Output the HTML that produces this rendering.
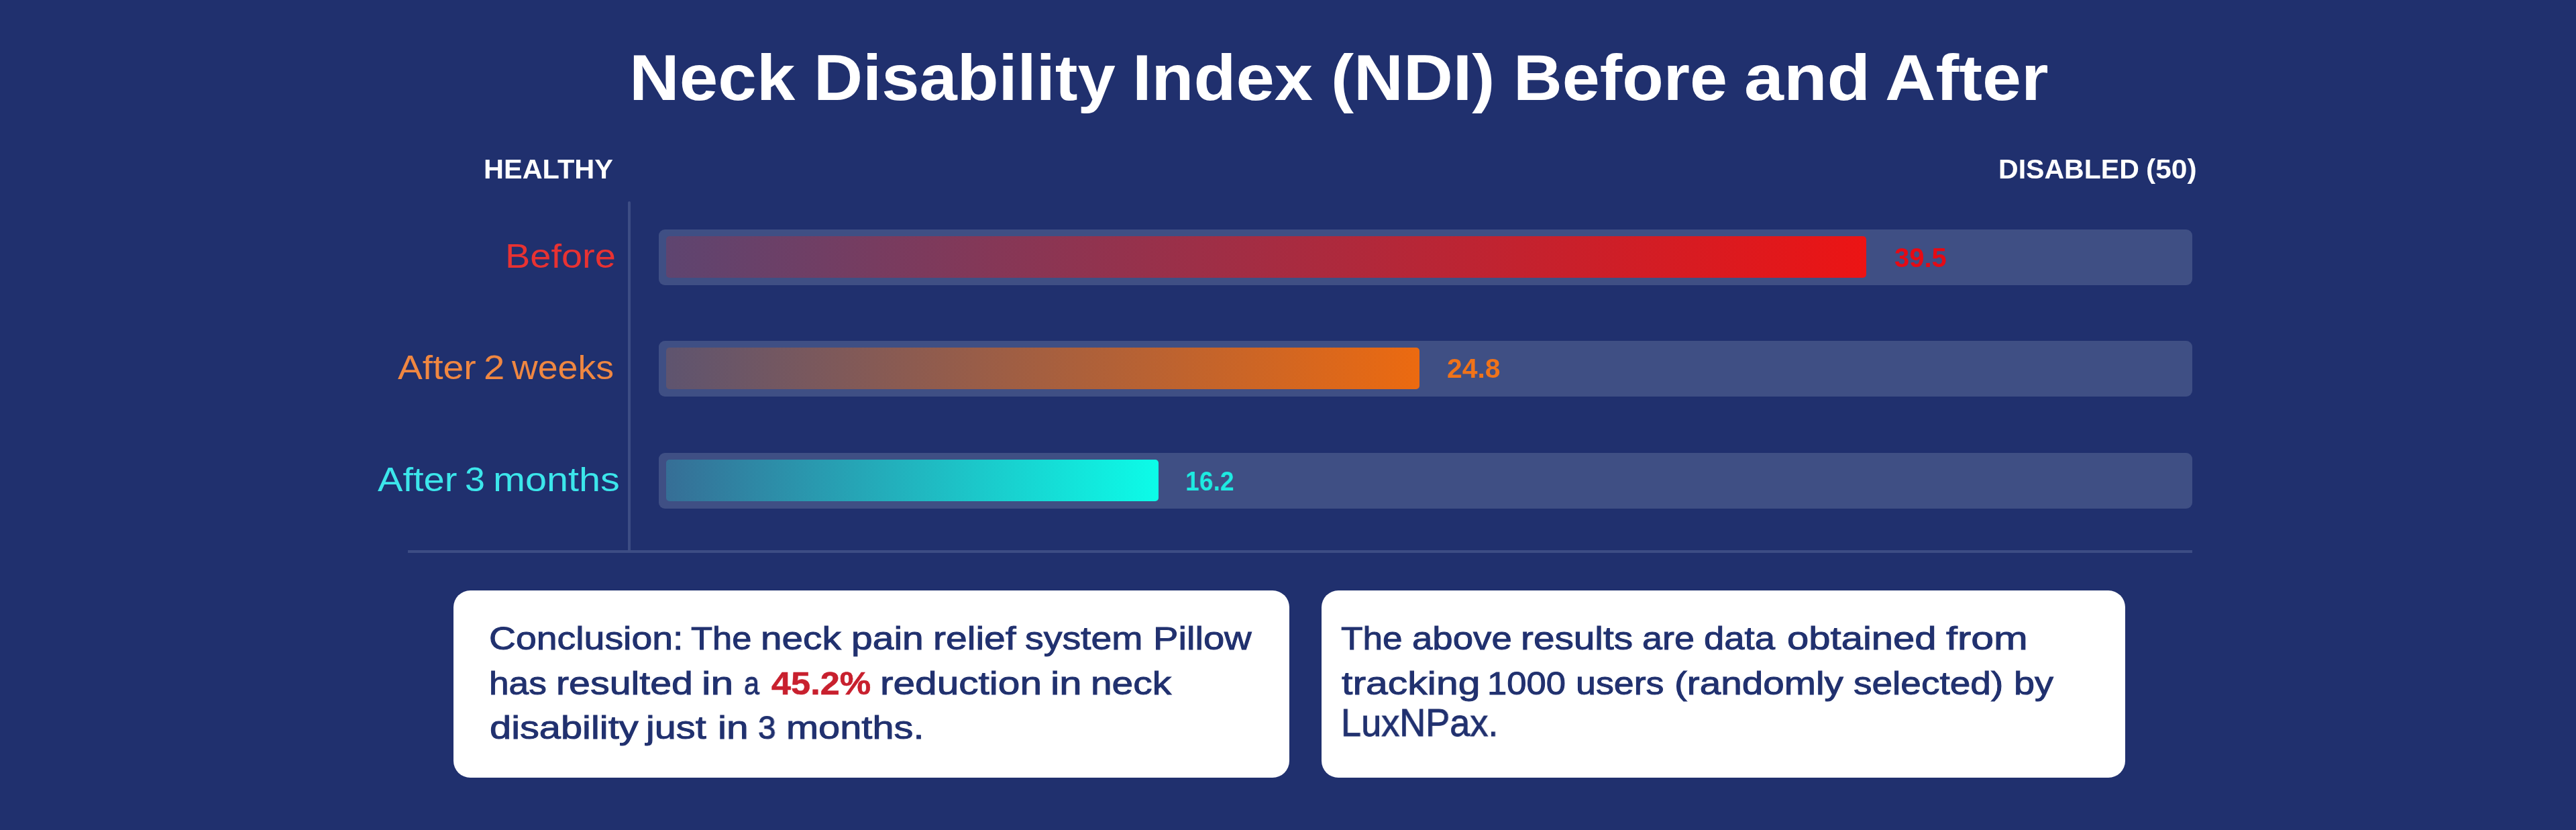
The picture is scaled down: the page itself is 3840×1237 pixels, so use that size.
<!DOCTYPE html>
<html>
<head>
<meta charset="utf-8">
<title>Neck Disability Index (NDI) Before and After</title>
<style>
html,body{margin:0;padding:0;}
body{width:3840px;height:1237px;background:#20306e;position:relative;overflow:hidden;font-family:"Liberation Sans",sans-serif;}
.a{position:absolute;white-space:nowrap;}
.t{line-height:1;transform-origin:0 0;will-change:transform;}
.vline{left:936px;top:300px;width:4px;height:522px;border-radius:2px 2px 0 0;background:#3d4d84;}
.hline{left:608px;top:820px;width:2660px;height:4px;background:#3d4d84;}
.track{left:982px;width:2286px;height:83px;border-radius:9px;background:#3f4f84;}
.bar{left:993px;height:62px;border-radius:5px;}
.card{background:#fff;border-radius:25px;}
</style>
</head>
<body>
<div class="a vline"></div>
<div class="a hline"></div>
<div class="a track" style="top:342px;"></div>
<div class="a track" style="top:508px;"></div>
<div class="a track" style="top:675px;"></div>
<div class="a bar" style="top:352px;width:1789.4px;background:linear-gradient(90deg,rgba(236,20,20,0.18) 0%,rgba(236,20,20,1) 100%);"></div>
<div class="a bar" style="top:518px;width:1123.4px;background:linear-gradient(90deg,rgba(236,106,16,0.18) 0%,rgba(236,106,16,1) 100%);"></div>
<div class="a bar" style="top:685px;width:733.9px;background:linear-gradient(90deg,rgba(12,252,232,0.18) 0%,rgba(12,252,232,1) 100%);"></div>
<div class="a card" style="left:676px;top:880px;width:1246px;height:279px;"></div>
<div class="a card" style="left:1970px;top:880px;width:1198px;height:279px;"></div>
<div class="a t" style="left:938.4px;top:67.5px;font-size:96px;font-weight:bold;color:#fff;transform:scaleX(1.0780);">Neck</div>
<div class="a t" style="left:1212.5px;top:67.5px;font-size:96px;font-weight:bold;color:#fff;transform:scaleX(1.0538);">Disability</div>
<div class="a t" style="left:1687.6px;top:67.5px;font-size:96px;font-weight:bold;color:#fff;transform:scaleX(1.0730);">Index</div>
<div class="a t" style="left:1983.7px;top:67.5px;font-size:96px;font-weight:bold;color:#fff;transform:scaleX(1.0659);">(NDI)</div>
<div class="a t" style="left:2255.8px;top:67.5px;font-size:96px;font-weight:bold;color:#fff;transform:scaleX(1.0488);">Before</div>
<div class="a t" style="left:2600.1px;top:67.5px;font-size:96px;font-weight:bold;color:#fff;transform:scaleX(1.1031);">and</div>
<div class="a t" style="left:2809.7px;top:67.5px;font-size:96px;font-weight:bold;color:#fff;transform:scaleX(1.0873);">After</div>
<div class="a t" style="left:720.6px;top:231.9px;font-size:40px;font-weight:bold;color:#fff;transform:scaleX(1.0374);">HEALTHY</div>
<div class="a t" style="left:2978.7px;top:231.5px;font-size:40px;font-weight:bold;color:#fff;transform:scaleX(1.0260);">DISABLED</div>
<div class="a t" style="left:3199.4px;top:231.5px;font-size:40px;font-weight:bold;color:#fff;transform:scaleX(1.0642);">(50)</div>
<div class="a t" style="left:752.7px;top:357.3px;font-size:50px;font-weight:normal;color:#e83232;transform:scaleX(1.1191);">Before</div>
<div class="a t" style="left:592.6px;top:523.2px;font-size:50px;font-weight:normal;color:#f08741;transform:scaleX(1.1048);">After</div>
<div class="a t" style="left:720.9px;top:523.2px;font-size:50px;font-weight:normal;color:#f08741;transform:scaleX(1.1261);">2</div>
<div class="a t" style="left:763.0px;top:523.2px;font-size:50px;font-weight:normal;color:#f08741;transform:scaleX(1.0736);">weeks</div>
<div class="a t" style="left:563.3px;top:689.5px;font-size:50px;font-weight:normal;color:#3ce6eb;transform:scaleX(1.1210);">After</div>
<div class="a t" style="left:692.9px;top:689.5px;font-size:50px;font-weight:normal;color:#3ce6eb;transform:scaleX(1.0750);">3</div>
<div class="a t" style="left:735.0px;top:689.5px;font-size:50px;font-weight:normal;color:#3ce6eb;transform:scaleX(1.1522);">months</div>
<div class="a t" style="left:2824.0px;top:364.0px;font-size:40px;font-weight:bold;color:#e60a14;transform:scaleX(1.0000);">39.5</div>
<div class="a t" style="left:2156.7px;top:529.3px;font-size:40px;font-weight:bold;color:#f07319;transform:scaleX(1.0224);">24.8</div>
<div class="a t" style="left:1766.5px;top:696.6px;font-size:40px;font-weight:bold;color:#1eebe1;transform:scaleX(0.9338);">16.2</div>
<div class="a t" style="left:728.6px;top:927.2px;font-size:49px;font-weight:normal;color:#21316f;-webkit-text-stroke:1px #21316f;transform:scaleX(1.1304);">Conclusion:</div>
<div class="a t" style="left:1029.6px;top:927.2px;font-size:49px;font-weight:normal;color:#21316f;-webkit-text-stroke:1px #21316f;transform:scaleX(1.0723);">The</div>
<div class="a t" style="left:1134.1px;top:927.2px;font-size:49px;font-weight:normal;color:#21316f;-webkit-text-stroke:1px #21316f;transform:scaleX(1.1574);">neck</div>
<div class="a t" style="left:1268.9px;top:927.2px;font-size:49px;font-weight:normal;color:#21316f;-webkit-text-stroke:1px #21316f;transform:scaleX(1.1632);">pain</div>
<div class="a t" style="left:1390.8px;top:927.2px;font-size:49px;font-weight:normal;color:#21316f;-webkit-text-stroke:1px #21316f;transform:scaleX(1.1644);">relief</div>
<div class="a t" style="left:1528.3px;top:927.2px;font-size:49px;font-weight:normal;color:#21316f;-webkit-text-stroke:1px #21316f;transform:scaleX(1.1309);">system</div>
<div class="a t" style="left:1718.8px;top:927.2px;font-size:49px;font-weight:normal;color:#21316f;-webkit-text-stroke:1px #21316f;transform:scaleX(1.1460);">Pillow</div>
<div class="a t" style="left:729.1px;top:994.2px;font-size:49px;font-weight:normal;color:#21316f;-webkit-text-stroke:1px #21316f;transform:scaleX(1.0867);">has</div>
<div class="a t" style="left:828.6px;top:994.2px;font-size:49px;font-weight:normal;color:#21316f;-webkit-text-stroke:1px #21316f;transform:scaleX(1.1698);">resulted</div>
<div class="a t" style="left:1045.8px;top:994.2px;font-size:49px;font-weight:normal;color:#21316f;-webkit-text-stroke:1px #21316f;transform:scaleX(1.2364);">in</div>
<div class="a t" style="left:1108.8px;top:994.2px;font-size:49px;font-weight:normal;color:#21316f;-webkit-text-stroke:1px #21316f;transform:scaleX(0.8407);">a</div>
<div class="a t" style="left:1150.0px;top:994.2px;font-size:49px;font-weight:normal;color:#c8202e;font-weight:bold;-webkit-text-stroke:0.6px #c8202e;transform:scaleX(1.0667);">45.2%</div>
<div class="a t" style="left:1311.5px;top:994.2px;font-size:49px;font-weight:normal;color:#21316f;-webkit-text-stroke:1px #21316f;transform:scaleX(1.1954);">reduction</div>
<div class="a t" style="left:1565.9px;top:994.2px;font-size:49px;font-weight:normal;color:#21316f;-webkit-text-stroke:1px #21316f;transform:scaleX(1.2212);">in</div>
<div class="a t" style="left:1626.3px;top:994.2px;font-size:49px;font-weight:normal;color:#21316f;-webkit-text-stroke:1px #21316f;transform:scaleX(1.1604);">neck</div>
<div class="a t" style="left:729.7px;top:1059.7px;font-size:49px;font-weight:normal;color:#21316f;-webkit-text-stroke:1px #21316f;transform:scaleX(1.1791);">disability</div>
<div class="a t" style="left:963.4px;top:1059.7px;font-size:49px;font-weight:normal;color:#21316f;-webkit-text-stroke:1px #21316f;transform:scaleX(1.1759);">just</div>
<div class="a t" style="left:1070.4px;top:1059.7px;font-size:49px;font-weight:normal;color:#21316f;-webkit-text-stroke:1px #21316f;transform:scaleX(1.2000);">in</div>
<div class="a t" style="left:1129.9px;top:1059.7px;font-size:49px;font-weight:normal;color:#21316f;-webkit-text-stroke:1px #21316f;transform:scaleX(0.9760);">3</div>
<div class="a t" style="left:1171.6px;top:1059.7px;font-size:49px;font-weight:normal;color:#21316f;-webkit-text-stroke:1px #21316f;transform:scaleX(1.1786);">months.</div>
<div class="a t" style="left:1999.3px;top:927.4px;font-size:49px;font-weight:normal;color:#21316f;-webkit-text-stroke:1px #21316f;transform:scaleX(1.0855);">The</div>
<div class="a t" style="left:2105.0px;top:927.4px;font-size:49px;font-weight:normal;color:#21316f;-webkit-text-stroke:1px #21316f;transform:scaleX(1.1145);">above</div>
<div class="a t" style="left:2267.1px;top:927.4px;font-size:49px;font-weight:normal;color:#21316f;-webkit-text-stroke:1px #21316f;transform:scaleX(1.1579);">results</div>
<div class="a t" style="left:2448.0px;top:927.4px;font-size:49px;font-weight:normal;color:#21316f;-webkit-text-stroke:1px #21316f;transform:scaleX(1.1015);">are</div>
<div class="a t" style="left:2539.9px;top:927.4px;font-size:49px;font-weight:normal;color:#21316f;-webkit-text-stroke:1px #21316f;transform:scaleX(1.1116);">data</div>
<div class="a t" style="left:2664.4px;top:927.4px;font-size:49px;font-weight:normal;color:#21316f;-webkit-text-stroke:1px #21316f;transform:scaleX(1.1842);">obtained</div>
<div class="a t" style="left:2900.9px;top:927.4px;font-size:49px;font-weight:normal;color:#21316f;-webkit-text-stroke:1px #21316f;transform:scaleX(1.2417);">from</div>
<div class="a t" style="left:1999.6px;top:994.0px;font-size:49px;font-weight:normal;color:#21316f;-webkit-text-stroke:1px #21316f;transform:scaleX(1.2036);">tracking</div>
<div class="a t" style="left:2217.4px;top:994.0px;font-size:49px;font-weight:normal;color:#21316f;-webkit-text-stroke:1px #21316f;transform:scaleX(1.0724);">1000</div>
<div class="a t" style="left:2349.2px;top:994.0px;font-size:49px;font-weight:normal;color:#21316f;-webkit-text-stroke:1px #21316f;transform:scaleX(1.0974);">users</div>
<div class="a t" style="left:2496.2px;top:994.0px;font-size:49px;font-weight:normal;color:#21316f;-webkit-text-stroke:1px #21316f;transform:scaleX(1.1565);">(randomly</div>
<div class="a t" style="left:2762.8px;top:994.0px;font-size:49px;font-weight:normal;color:#21316f;-webkit-text-stroke:1px #21316f;transform:scaleX(1.1226);">selected)</div>
<div class="a t" style="left:3001.9px;top:994.0px;font-size:49px;font-weight:normal;color:#21316f;-webkit-text-stroke:1px #21316f;transform:scaleX(1.1408);">by</div>
<div class="a t" style="left:1999.1px;top:1049.4px;font-size:57px;font-weight:normal;color:#21316f;-webkit-text-stroke:0.9px #21316f;transform:scaleX(0.9487);">LuxNPax.</div>
</body>
</html>
